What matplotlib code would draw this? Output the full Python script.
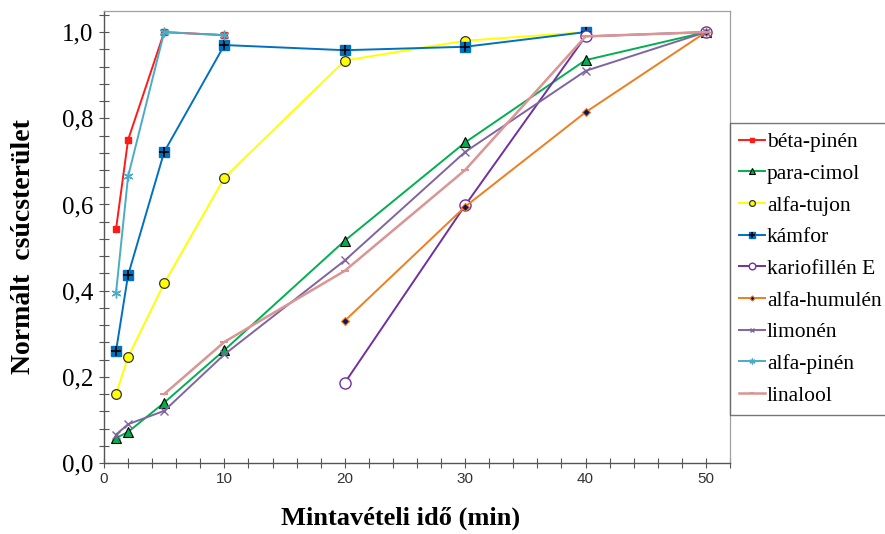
import numpy as np
import matplotlib.pyplot as plt
from matplotlib.legend_handler import HandlerTuple

plt.rcParams['font.family'] = ['Liberation Serif', 'DejaVu Serif']

# data
t_early = [1, 2, 5, 10]
t_full = [1, 2, 5, 10, 20, 30, 40]
t_all = [1, 2, 5, 10, 20, 30, 40, 50]
t_late = [20, 30, 40, 50]
t_lin = [5, 10, 20, 30, 40, 50]

beta_pinen = [0.543, 0.750, 1.000, 0.993]
para_cimol = [0.058, 0.072, 0.140, 0.262, 0.516, 0.744, 0.935, 1.000]
alfa_tujon = [0.160, 0.246, 0.417, 0.662, 0.934, 0.980, 1.000]
kamfor = [0.260, 0.436, 0.722, 0.970, 0.958, 0.966, 1.000]
kariofillen = [0.186, 0.598, 0.990, 1.000]
alfa_humulen = [0.330, 0.595, 0.814, 1.000]
limonen = [0.066, 0.090, 0.121, 0.252, 0.470, 0.722, 0.910, 1.000]
alfa_pinen = [0.395, 0.665, 1.000, 0.993]
linalool = [0.160, 0.281, 0.446, 0.680, 0.990, 1.000]

fig = plt.figure(figsize=(8.85, 5.34), dpi=100)
ax = fig.add_axes([104/885, 1 - 463/534, (730 - 104)/885, (463 - 11)/534])

lw = 1.4
h_beta, = ax.plot(t_early, beta_pinen, '-s', color='#ff1a1a', lw=lw, ms=5, mec='#ff1a1a')
h_para, = ax.plot(t_all, para_cimol, '-^', color='#00b050', lw=lw, ms=6.5, mfc='#00b050', mec='black', mew=0.8)
h_tuj, = ax.plot(t_full, alfa_tujon, '-o', color='#ffff00', lw=lw, ms=7, mfc='#ffff00', mec='#333333', mew=0.9)
h_kam, = ax.plot(t_full, kamfor, '-s', color='#0070c0', lw=lw, ms=7, mfc='#0070c0', mec='#0070c0')
h_kam2, = ax.plot(t_full, kamfor, '+', color='black', ms=7, mew=1.2, ls='none')
h_kar, = ax.plot(t_late, kariofillen, '-o', color='#7030a0', lw=lw, ms=8, mfc='white', mec='#7030a0', mew=1.0)
h_hum, = ax.plot(t_late, alfa_humulen, '-D', color='#f07d1e', lw=lw, ms=4.5, mfc='#001a70', mec='#f07d1e', mew=0.8)
h_lim, = ax.plot(t_all, limonen, '-x', color='#8064a2', lw=lw, ms=6, mew=1.0)
h_apin, = ax.plot(t_early, alfa_pinen, '-', color='#4bacc6', marker=(6, 2, 0), lw=lw, ms=7, mew=1.0)
h_lin, = ax.plot(t_lin, linalool, '-_', color='#d99694', lw=lw * 1.3, ms=6, mew=1.5)

ax.set_xlim(0, 52)
ax.set_ylim(0, 1.049)
ax.set_xticks([0, 10, 20, 30, 40, 50])
ax.set_xticks(np.arange(0, 53, 2), minor=True)
ax.set_yticks(np.arange(0, 1.01, 0.2))
ax.set_yticks(np.arange(0, 1.049, 0.04), minor=True)
ax.set_yticklabels([('%.1f' % v).replace('.', ',') for v in np.arange(0, 1.01, 0.2)], fontsize=18)
for lab in ax.get_xticklabels():
    lab.set_family('Liberation Sans')
    lab.set_fontsize(11)
    lab.set_color('#333333')
ax.tick_params(which='both', direction='inout', length=7, width=0.8, color='#555555')
ax.tick_params(axis='x', pad=3)
ax.tick_params(axis='y', pad=4)

for s in ['left', 'bottom']:
    ax.spines[s].set_color('#555555')
    ax.spines[s].set_linewidth(1.0)
for s in ['top', 'right']:
    ax.spines[s].set_color('#a0a0a0')
    ax.spines[s].set_linewidth(0.9)

ax.set_xlabel('Mintavételi idő (min)', fontsize=19, fontweight='bold', va='center')
ax.xaxis.set_label_coords(0.473, -0.122)
ax.set_ylabel('Normált  csúcsterület', fontsize=20, fontweight='bold', va='center')
ax.yaxis.set_label_coords(-0.128, 0.478)

handles = [h_beta, h_para, h_tuj, (h_kam, h_kam2), h_kar, h_hum, h_lim, h_apin, h_lin]
labels = ['béta-pinén', 'para-cimol', 'alfa-tujon', 'kámfor', 'kariofillén E',
          'alfa-humulén', 'limonén', 'alfa-pinén', 'linalool']
leg = ax.legend(handles, labels, loc='upper left', bbox_to_anchor=(730/885, 1 - 123/534),
                bbox_transform=fig.transFigure, fontsize=15.5, frameon=True, fancybox=False,
                borderaxespad=0, handlelength=1.2, handletextpad=0.1, labelspacing=0.54,
                borderpad=0.42, markerscale=0.6,
                handler_map={tuple: HandlerTuple(ndivide=1, pad=0)})
leg.get_frame().set_edgecolor('#555555')
leg.get_frame().set_linewidth(1.0)

fig.savefig('out.png', dpi=100)
